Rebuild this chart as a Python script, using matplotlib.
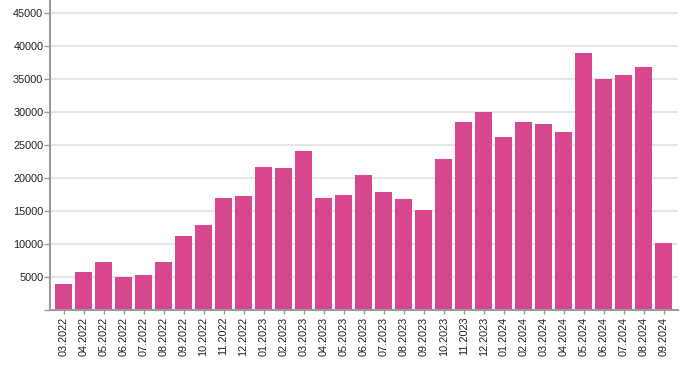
import matplotlib
matplotlib.use('Agg')
import matplotlib.pyplot as plt
import numpy as np

plt.rcParams['font.family'] = ['Liberation Sans', 'DejaVu Sans']

# Monatswerte
months = ['03.2022', '04.2022', '05.2022', '06.2022', '07.2022', '08.2022', '09.2022',
          '10.2022', '11.2022', '12.2022', '01.2023', '02.2023', '03.2023', '04.2023',
          '05.2023', '06.2023', '07.2023', '08.2023', '09.2023', '10.2023', '11.2023',
          '12.2023', '01.2024', '02.2024', '03.2024', '04.2024', '05.2024', '06.2024',
          '07.2024', '08.2024', '09.2024']
values = [3900, 5720, 7240, 4960, 5270, 7240, 11180,
          12850, 16950, 17250, 21650, 21500, 24080, 16950,
          17400, 20440, 17850, 16790, 15120, 22860, 28480,
          29990, 26200, 28480, 28170, 26950, 38940, 35000,
          35600, 36820, 10120]
yticks = [0, 5000, 10000, 15000, 20000, 25000, 30000, 35000, 40000, 45000]

fig = plt.figure(figsize=(6.86, 3.68), dpi=100)
ax = fig.add_axes([49.5 / 686, 58.3 / 368, (678 - 49.5) / 686, (368 - 58.3) / 368])

x = np.arange(len(months))
ax.bar(x, values, width=0.85, color='#d8478e', zorder=2)

ax.set_xlim(-0.7, len(months) - 0.3)
ax.set_ylim(0, 46980)
ax.set_yticks(yticks)
ax.set_yticklabels(['' if t == 0 else str(t) for t in yticks])
ax.set_xticks(x)
ax.set_xticklabels(months, rotation=90)

ax.grid(axis='y', color='#e6e6e6', linewidth=1.5, zorder=0)
ax.set_axisbelow(True)

for s in ['top', 'right']:
    ax.spines[s].set_visible(False)
for s in ['left', 'bottom']:
    ax.spines[s].set_color('#999999')
    ax.spines[s].set_linewidth(1.5)

ax.tick_params(axis='y', length=4, width=1, color='#999999', labelsize=7.8, pad=0.5, labelcolor='#222222')
ax.tick_params(axis='x', length=3, width=1, color='#999999', labelsize=7.8, pad=2, labelcolor='#222222')

fig.savefig('out.png', dpi=100)
